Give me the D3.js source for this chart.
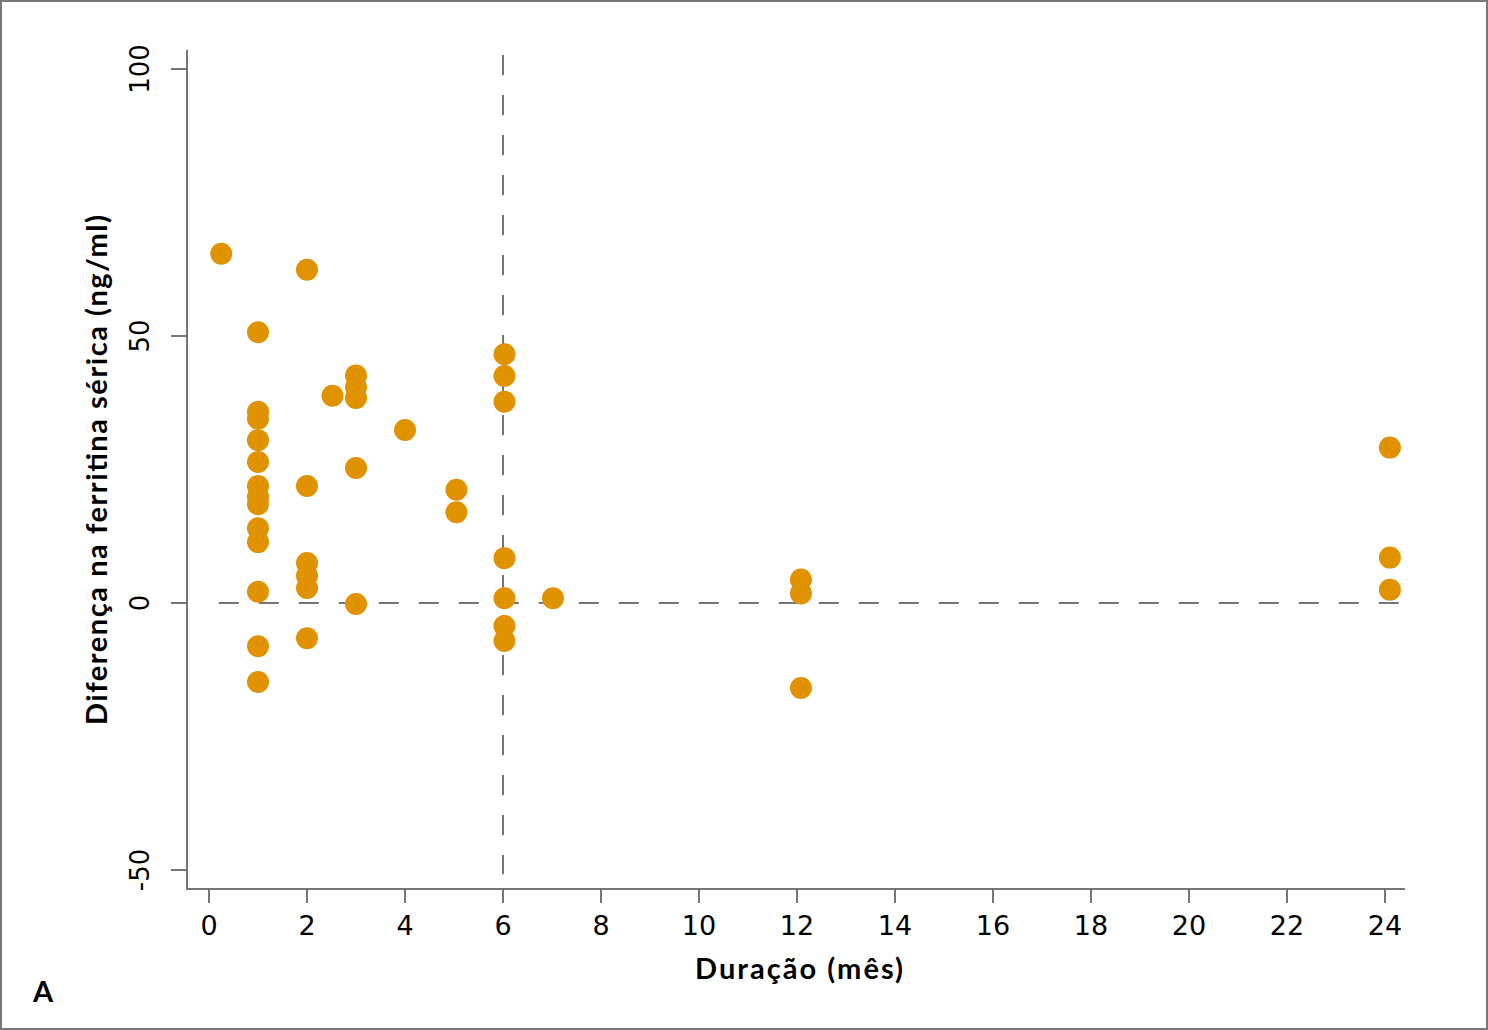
<!DOCTYPE html>
<html><head><meta charset="utf-8">
<script src="https://cdn.jsdelivr.net/npm/d3@7"></script>
<style>body{margin:0;background:#fff}svg{display:block}</style>
</head><body>
<script>
const durations = [0.25, 2, 1, 1, 1, 1, 1, 1, 1, 1, 1, 1, 1, 1, 1, 2, 2, 2, 2, 2, 2.52, 3, 3, 3, 3, 3, 4, 5.05, 5.05, 6.03, 6.03, 6.03, 6.03, 6.03, 6.03, 6.03, 7.02, 12.08, 12.08, 12.08, 24.1, 24.1, 24.1];
const ferritinDiff = [65.4, 62.4, 50.7, 35.8, 34.5, 30.5, 26.4, 21.9, 19.9, 18.5, 14.0, 11.4, 2.1, -8.1, -14.8, 21.9, 7.5, 5.1, 2.8, -6.6, 38.8, 42.6, 40.4, 38.4, 25.3, -0.2, 32.4, 21.2, 17.0, 46.6, 42.5, 37.7, 8.4, 0.9, -4.3, -7.1, 0.9, 4.4, 1.8, -15.9, 29.1, 8.5, 2.5];
const xTicks = [0, 2, 4, 6, 8, 10, 12, 14, 16, 18, 20, 22, 24];
const yTicks = [-50, 0, 50, 100];
const refX = 6;
const refY = 0;
const xTitle = "Duração (mês)";
const yTitle = "Diferença na ferritina sérica (ng/ml)";
const panel = "A";

const W = 1488, H = 1030;
const svg = d3.select("body").append("svg").attr("width", W).attr("height", H);
svg.append("rect").attr("x", 1).attr("y", 1).attr("width", W - 2).attr("height", H - 2)
  .attr("fill", "#fff").attr("stroke", "#777").attr("stroke-width", 2);

const x = d3.scaleLinear().domain([0, 24]).range([209, 1385]);
const y = d3.scaleLinear().domain([0, 100]).range([603, 69]);
const axisColor = "#757575";
const tickFont = "'DejaVu Sans', Verdana, sans-serif";

// axis lines
const xMin = x.invert(187), xMax = x.invert(1405);
const yMin = y.invert(889), yMax = y.invert(50);
svg.append("line").attr("x1", x(xMin)).attr("x2", x(xMin)).attr("y1", y(yMax)).attr("y2", y(yMin))
  .attr("stroke", axisColor).attr("stroke-width", 2);
svg.append("line").attr("x1", x(xMin) - 1).attr("x2", x(xMax)).attr("y1", y(yMin)).attr("y2", y(yMin))
  .attr("stroke", axisColor).attr("stroke-width", 2);

// x ticks
const gx = svg.append("g");
xTicks.forEach(t => {
  gx.append("line").attr("x1", x(t)).attr("x2", x(t)).attr("y1", y(yMin)).attr("y2", y(yMin) + 14)
    .attr("stroke", axisColor).attr("stroke-width", 2);
  gx.append("text").attr("x", x(t)).attr("y", 935).attr("text-anchor", "middle")
    .attr("font-family", tickFont).attr("font-size", 27).attr("fill", "#000").text(t);
});
// y ticks
const gy = svg.append("g");
yTicks.forEach(t => {
  gy.append("line").attr("x1", x(xMin) - 16).attr("x2", x(xMin)).attr("y1", y(t)).attr("y2", y(t))
    .attr("stroke", axisColor).attr("stroke-width", 2);
  gy.append("text").attr("transform", `translate(149,${y(t)}) rotate(-90)`).attr("text-anchor", "middle")
    .attr("font-family", tickFont).attr("font-size", 26).attr("fill", "#000").text(t);
});

// reference lines
svg.append("line").attr("x1", x(refX)).attr("x2", x(refX)).attr("y1", y(102.6)).attr("y2", y(-50.8))
  .attr("stroke", axisColor).attr("stroke-width", 2).attr("stroke-dasharray", "20,20");
svg.append("line").attr("x1", x(0.2)).attr("x2", x(24.3)).attr("y1", y(refY)).attr("y2", y(refY))
  .attr("stroke", axisColor).attr("stroke-width", 2).attr("stroke-dasharray", "20,20");

// points
svg.append("g").selectAll("circle").data(durations.map((d, i) => [d, ferritinDiff[i]])).join("circle")
  .attr("cx", d => x(d[0])).attr("cy", d => y(d[1])).attr("r", 11).attr("fill", "#E09200");

// titles
const titleFont = "Lato, 'Open Sans', sans-serif";
svg.append("text").attr("x", 799).attr("y", 979).attr("text-anchor", "middle")
  .attr("font-family", titleFont).attr("font-weight", "bold").attr("font-size", 29).attr("fill", "#000")
  .attr("textLength", 208).attr("lengthAdjust", "spacing").text(xTitle);
svg.append("text").attr("transform", "translate(107,470) rotate(-90)").attr("text-anchor", "middle")
  .attr("font-family", titleFont).attr("font-weight", "bold").attr("font-size", 29).attr("fill", "#000")
  .attr("textLength", 510).attr("lengthAdjust", "spacing").text(yTitle);
svg.append("text").attr("x", 33).attr("y", 1002)
  .attr("font-family", titleFont).attr("font-weight", "bold").attr("font-size", 29).attr("fill", "#000").text(panel);
</script>
</body></html>
